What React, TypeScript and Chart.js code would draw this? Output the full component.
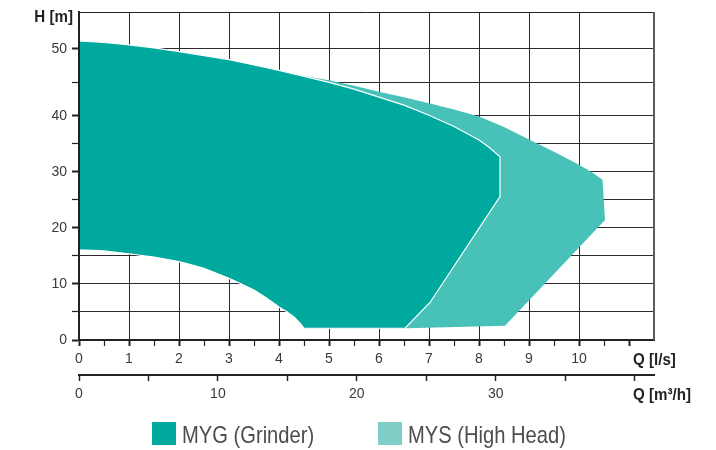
import React, { useEffect, useRef } from 'react';
import { Chart, registerables, LinearScale } from 'chart.js';

// ---------- data ----------
const H_TITLE = 'H [m]';
const Q_LS_TITLE = 'Q [l/s]';
const Q_M3H_TITLE = 'Q [m³/h]';

const Q_LS_TICKS = [0, 0.5, 1, 1.5, 2, 2.5, 3, 3.5, 4, 4.5, 5, 5.5, 6, 6.5, 7, 7.5, 8, 8.5, 9, 9.5, 10, 10.5, 11];
const Q_LS_LABELED = [0, 1, 2, 3, 4, 5, 6, 7, 8, 9, 10];
const Q_LS_GRID = [0, 1, 2, 3, 4, 5, 6, 7, 8, 9, 10];
const Q_M3H_TICKS = [0, 5, 10, 15, 20, 25, 30, 35, 40];
const Q_M3H_LABELED = [0, 10, 20, 30];
const H_TICKS = [0, 5, 10, 15, 20, 25, 30, 35, 40, 45, 50];
const H_LABELED = [0, 10, 20, 30, 40, 50];

const Q_LS_MAX = 11.5;
const LS_TO_M3H = 3.6;
const H_TOP = 55.5;

const SERIES_LABELS = ['MYG (Grinder)', 'MYS (High Head)'];

// MYG operating field (closed outline, Q in l/s, H in m)
const mygQ = [
  0, 0.5, 1, 1.5, 2, 2.5, 3, 3.5, 4, 4.5, 5, 5.5, 6, 6.5, 7, 7.5, 8, 8.2, 8.42,
  8.42, 7.02, 6.52, 4.5,
  4.42, 4.3, 4.15, 4.0, 3.75, 3.5, 3.25, 3.0, 2.75, 2.5, 2.25, 2.0, 1.5, 1.0, 0.5, 0, 0,
];
const mygH = [
  51.2, 50.95, 50.6, 50.15, 49.6, 49.0, 48.4, 47.6, 46.8, 45.9, 45.0, 44.0, 42.8, 41.6, 40.1, 38.1, 35.7, 34.4, 32.7,
  25.6, 6.7, 2.1, 2.1,
  3.0, 4.1, 5.1, 5.9, 7.5, 8.9, 10.0, 11.0, 11.9, 12.8, 13.4, 14.0, 14.8, 15.4, 15.9, 16.1, 51.2,
];

// MYS operating field (closed outline)
const mysQ = [
  0, 0.5, 1, 1.5, 2, 2.5, 3, 3.5, 4, 4.5, 5, 5.5, 6, 6.5, 7, 7.5, 8, 8.5, 9, 9.5, 10, 10.25, 10.47,
  10.52, 8.52, 6.55, 4.5,
  4.42, 4.3, 4.15, 4.0, 3.75, 3.5, 3.25, 3.0, 2.75, 2.5, 2.25, 2.0, 1.5, 1.0, 0.5, 0, 0,
];
const mysH = [
  51.2, 50.95, 50.6, 50.15, 49.6, 49.0, 48.4, 47.6, 46.8, 45.95, 45.3, 44.5, 43.6, 42.8, 41.9, 40.95, 39.9, 38.0, 35.8, 33.6, 31.3, 30.0, 28.6,
  21.4, 2.55, 2.1, 2.1,
  3.0, 4.1, 5.1, 5.9, 7.5, 8.9, 10.0, 11.0, 11.9, 12.8, 13.4, 14.0, 14.8, 15.4, 15.9, 16.1, 51.2,
];

// ---------- styles ----------
const MYG_COLOR = '#00A99D';
const MYS_COLOR = '#48C2B9';
const MYS_LEGEND_COLOR = '#7FCEC8';
const INK = '#222222';
const GRID = '#2b2b2b';
const SANS = "'Liberation Sans', Arial, Helvetica, sans-serif";
const NARROW_X = 0.84;

// Head axis of the original is stretched above 40 m
const H_BREAK = 40;
const H_STRETCH = 67 / 56;
const fwd = (v: number) => (v <= H_BREAK ? v : H_BREAK + (v - H_BREAK) * H_STRETCH);
const inv = (t: number) => (t <= H_BREAK ? t : H_BREAK + (t - H_BREAK) / H_STRETCH);

class HeadScale extends LinearScale {
  static id = 'head';
  static defaults = LinearScale.defaults;
  getPixelForValue(value: number) {
    return super.getPixelForValue(fwd(value));
  }
  getValueForPixel(pixel: number) {
    return inv(super.getValueForPixel(pixel) as number);
  }
}

Chart.register(...registerables, HeadScale as any);

const zeroPad = (s: any) => {
  s.paddingLeft = 0;
  s.paddingRight = 0;
  s.paddingTop = 0;
  s.paddingBottom = 0;
};

const drawNarrow = (ctx: any, text: string, x: number, y: number, align: 'left' | 'right') => {
  ctx.save();
  ctx.translate(x, y);
  ctx.scale(0.89, 1);
  ctx.textAlign = align;
  ctx.fillText(text, 0, 0);
  ctx.restore();
};

const frameAndTitles = {
  id: 'frameAndTitles',
  afterDatasetsDraw(chart: any) {
    const { ctx, chartArea } = chart;
    ctx.save();
    ctx.strokeStyle = INK;
    ctx.lineWidth = 1;
    ctx.beginPath();
    ctx.moveTo(chartArea.left, chartArea.top + 0.5);
    ctx.lineTo(chartArea.right, chartArea.top + 0.5);
    ctx.stroke();
    // left and bottom axis lines on top of the filled fields
    ctx.lineWidth = 2;
    ctx.beginPath();
    ctx.moveTo(chartArea.left, chartArea.top);
    ctx.lineTo(chartArea.left, chartArea.bottom);
    ctx.lineTo(chartArea.right, chartArea.bottom);
    ctx.stroke();
    ctx.strokeStyle = '#5a5a5a';
    ctx.beginPath();
    ctx.moveTo(chartArea.right, chartArea.top);
    ctx.lineTo(chartArea.right, chartArea.bottom);
    ctx.stroke();
    ctx.restore();
  },
  afterDraw(chart: any) {
    const { ctx, chartArea, scales } = chart;
    ctx.save();
    ctx.font = `bold 17px ${SANS}`;
    ctx.fillStyle = INK;
    ctx.textBaseline = 'alphabetic';
    drawNarrow(ctx, H_TITLE, scales.y.right - 6, chartArea.top + 10, 'right');
    drawNarrow(ctx, Q_LS_TITLE, chartArea.right - 21, scales.x.top + 25, 'left');
    drawNarrow(ctx, Q_M3H_TITLE, chartArea.right - 21, scales.x2.top + 25, 'left');
    ctx.restore();
  },
};

const tickFont = { family: SANS, size: 14 };

export default function App() {
  const canvasRef = useRef<HTMLCanvasElement | null>(null);

  useEffect(() => {
    if (!canvasRef.current) return;
    const chart = new Chart(canvasRef.current, {
      type: 'line',
      data: {
        datasets: [
          {
            label: SERIES_LABELS[0],
            data: mygQ.map((q, i) => ({ x: q, y: mygH[i] })),
            backgroundColor: MYG_COLOR,
            borderColor: '#ffffff',
            borderWidth: 1.2,
            fill: 'shape',
            pointRadius: 0,
            tension: 0,
          },
          {
            label: SERIES_LABELS[1],
            data: mysQ.map((q, i) => ({ x: q, y: mysH[i] })),
            backgroundColor: MYS_COLOR,
            borderColor: MYS_COLOR,
            borderWidth: 0,
            fill: 'shape',
            pointRadius: 0,
            tension: 0,
          },
        ],
      },
      options: {
        responsive: false,
        animation: false,
        devicePixelRatio: 1,
        events: [],
        layout: { padding: { top: 12, right: 62, bottom: 45, left: 0 } },
        plugins: {
          legend: { display: false },
          tooltip: { enabled: false },
        },
        scales: {
          x: {
            type: 'linear',
            position: 'bottom',
            weight: 0,
            min: 0,
            max: Q_LS_MAX,
            afterBuildTicks: (s: any) => {
              s.ticks = Q_LS_TICKS.map((v) => ({ value: v }));
            },
            afterFit: (s: any) => {
              s.height = 35;
              zeroPad(s);
            },
            border: { color: INK, width: 2 },
            grid: {
              color: (c: any) => (Q_LS_GRID.includes(c.tick?.value) ? GRID : 'rgba(0,0,0,0)'),
              lineWidth: 1,
              tickColor: INK,
              tickWidth: (c: any) => (Number.isInteger(c.tick?.value) ? 2 : 1.2),
              tickLength: 6,
            },
            ticks: {
              autoSkip: false,
              maxRotation: 0,
              padding: 5,
              color: '#3a3a3a',
              font: tickFont,
              callback: (v: any) => (Q_LS_LABELED.includes(v) ? String(v) : ''),
            },
          },
          x2: {
            type: 'linear',
            axis: 'x',
            position: 'bottom',
            weight: 1,
            min: 0,
            max: Q_LS_MAX * LS_TO_M3H,
            afterBuildTicks: (s: any) => {
              s.ticks = Q_M3H_TICKS.map((v) => ({ value: v }));
            },
            afterFit: (s: any) => {
              s.height = 30;
              zeroPad(s);
            },
            border: { color: INK, width: 2 },
            grid: {
              drawOnChartArea: false,
              color: INK,
              tickColor: INK,
              tickWidth: 1.5,
              tickLength: 6,
            },
            ticks: {
              autoSkip: false,
              maxRotation: 0,
              padding: 5,
              color: '#3a3a3a',
              font: tickFont,
              callback: (v: any) => (Q_M3H_LABELED.includes(v) ? String(v) : ''),
            },
          },
          y: {
            type: 'head' as any,
            position: 'left',
            min: 0,
            max: fwd(H_TOP),
            afterBuildTicks: (s: any) => {
              s.ticks = H_TICKS.map((v) => ({ value: v }));
            },
            afterFit: (s: any) => {
              s.width = 79;
              zeroPad(s);
            },
            border: { color: INK, width: 2 },
            grid: {
              color: GRID,
              lineWidth: 1,
              tickColor: INK,
              tickWidth: (c: any) => (H_LABELED.includes(c.tick?.value) ? 2 : 1.2),
              tickLength: 7,
            },
            ticks: {
              autoSkip: false,
              padding: 5,
              color: '#3a3a3a',
              font: tickFont,
              callback: (v: any) => (H_LABELED.includes(v) ? String(v) : ''),
            },
          },
        },
      } as any,
      plugins: [frameAndTitles],
    });
    return () => chart.destroy();
  }, []);

  const legendItems = [
    { label: SERIES_LABELS[0], color: MYG_COLOR, left: 152 },
    { label: SERIES_LABELS[1], color: MYS_LEGEND_COLOR, left: 378 },
  ];

  return (
    <div style={{ position: 'absolute', left: 0, top: 0, width: 716, height: 450, background: '#fff' }}>
      <canvas ref={canvasRef} width={716} height={450} style={{ display: 'block' }} />
      {legendItems.map((it) => (
        <div key={it.label} style={{ position: 'absolute', left: it.left, top: 422, height: 23, display: 'flex', alignItems: 'center' }}>
          <span style={{ display: 'inline-block', width: 24, height: 23, background: it.color }} />
          <span
            style={{
              display: 'inline-block',
              marginLeft: 6,
              fontFamily: SANS,
              fontSize: 24,
              lineHeight: '23px',
              color: '#4d4d4d',
              whiteSpace: 'nowrap',
              position: 'relative',
              top: 1,
              transform: `scaleX(${NARROW_X})`,
              transformOrigin: 'left center',
            }}
          >
            {it.label}
          </span>
        </div>
      ))}
    </div>
  );
}
